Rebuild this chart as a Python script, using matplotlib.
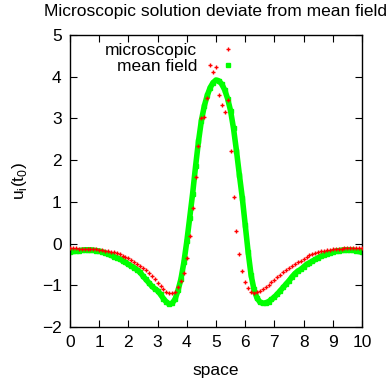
import numpy as np
import matplotlib
matplotlib.use("Agg")
import matplotlib.pyplot as plt

plt.rcParams['font.family'] = ['Liberation Sans', 'DejaVu Sans']

# x positions shared by both series (at 0.1 spacing)
space = np.round(np.arange(0, 101) * 0.1, 1)

micro = [
    -0.11, -0.11, -0.11, -0.12, -0.12, -0.12, -0.13, -0.13, -0.14, -0.14,
    -0.15, -0.16, -0.17, -0.18, -0.20, -0.21, -0.23, -0.26, -0.29, -0.32,
    -0.35, -0.39, -0.43, -0.48, -0.53, -0.58, -0.64, -0.71, -0.78, -0.86,
    -0.94, -1.02, -1.09, -1.15, -1.18, -1.19, -1.15, -1.05, -0.90, -0.71,
    -0.35, 0.17, 0.86, 1.59, 2.35, 3.00, 3.04, 3.50, 4.28, 4.11,
    4.23, 3.55, 3.32, 3.15, 3.43, 2.23, 1.11, 0.31, -0.26, -0.65,
    -0.91, -1.06, -1.15, -1.18, -1.17, -1.14, -1.09, -1.04, -0.99, -0.93,
    -0.87, -0.81, -0.75, -0.69, -0.64, -0.58, -0.53, -0.49, -0.45, -0.41,
    -0.36, -0.32, -0.28, -0.25, -0.22, -0.20, -0.18, -0.17, -0.16, -0.15,
    -0.14, -0.13, -0.12, -0.12, -0.11, -0.11, -0.10, -0.10, -0.10, -0.10,
    -0.10,
]

mean_field = [
    -0.20, -0.19, -0.18, -0.17, -0.16, -0.15, -0.15, -0.15, -0.16, -0.17,
    -0.18, -0.20, -0.22, -0.25, -0.28, -0.31, -0.34, -0.37, -0.41, -0.45,
    -0.50, -0.54, -0.58, -0.63, -0.69, -0.78, -0.86, -0.94, -1.02, -1.08,
    -1.13, -1.22, -1.32, -1.40, -1.45, -1.43, -1.33, -1.12, -0.85, -0.45,
    0.05, 0.62, 1.20, 1.85, 2.45, 2.95, 3.30, 3.55, 3.74, 3.86,
    3.92, 3.90, 3.82, 3.68, 3.47, 3.18, 2.76, 2.23, 1.65, 1.10,
    0.45, -0.20, -0.75, -1.10, -1.30, -1.40, -1.43, -1.42, -1.39, -1.34,
    -1.28, -1.21, -1.13, -1.05, -0.97, -0.89, -0.80, -0.72, -0.66, -0.62,
    -0.56, -0.50, -0.46, -0.42, -0.38, -0.34, -0.30, -0.27, -0.24, -0.22,
    -0.20, -0.18, -0.17, -0.16, -0.15, -0.15, -0.15, -0.16, -0.17, -0.19,
    -0.21,
]

FS = 12.5

fig = plt.figure(figsize=(3.87, 3.89), dpi=100)
ax = fig.add_axes([70 / 387, 62 / 389, 292 / 387, 292 / 389])

ax.plot(space, mean_field, color="#00ff00", lw=4, solid_capstyle="round", zorder=2)
ax.plot(space, mean_field, ls="none", marker="s", ms=3.5, color="#00ff00",
        label="mean field", zorder=2)
ax.plot(space, micro, ls="none", marker="+", ms=3.5, mew=1.0, color="#ff0000",
        label="microscopic", zorder=3)

ax.set_xlim(0, 10)
ax.set_ylim(-2, 5)
ax.set_xticks(range(0, 11))
ax.set_yticks(range(-2, 6))
ax.tick_params(direction="in", top=True, right=True, length=5, width=0.8,
               labelsize=FS, pad=6)
for s in ax.spines.values():
    s.set_linewidth(1.0)

ax.set_xlabel("space", fontsize=FS, labelpad=9)
ax.set_ylabel(r"u$_\mathregular{i}$(t$_\mathregular{0}$)", fontsize=FS, labelpad=9)
ax.set_title("Microscopic solution deviate from mean field", fontsize=FS,
             pad=14)

h, l = ax.get_legend_handles_labels()
ax.legend(h[::-1], l[::-1], loc="upper right", bbox_to_anchor=(0.587, 1.002),
          frameon=False, markerfirst=False, handlelength=0.5,
          handletextpad=1.55, labelspacing=0.05, borderpad=0, fontsize=FS)

fig.savefig("out.png", dpi=100)
